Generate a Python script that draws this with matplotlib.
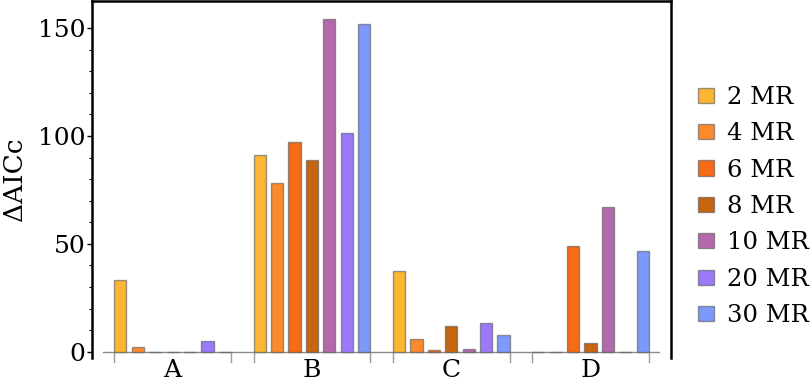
import numpy as np
import matplotlib
matplotlib.use("Agg")
import matplotlib.pyplot as plt
from matplotlib.patches import Patch

# --- data ---------------------------------------------------------------
groups = ["A", "B", "C", "D"]
series = ["2 MR", "4 MR", "6 MR", "8 MR", "10 MR", "20 MR", "30 MR"]

mr2 = [33.1, 91.1, 37.6, 0.0]
mr4 = [2.2, 78.4, 5.9, 0.0]
mr6 = [0.0, 97.4, 0.8, 48.9]
mr8 = [0.0, 89.1, 11.8, 3.9]
mr10 = [0.0, 154.3, 1.2, 67.1]
mr20 = [5.1, 101.4, 13.5, 0.0]
mr30 = [0.0, 151.9, 7.7, 46.8]

colors = ["#FDB634", "#FB8A2C", "#F66B16", "#C8650F",
          "#B469AD", "#9B7AFA", "#7C99FB"]

values = [mr2, mr4, mr6, mr8, mr10, mr20, mr30]

# --- figure -------------------------------------------------------------
plt.rcParams.update({"font.family": "DejaVu Serif"})

fig = plt.figure(figsize=(8.1, 3.83), dpi=100)
ax = fig.add_axes([0.1136, 0.0653, 0.828 - 0.1136, 1.0 - 0.0653 - 0.002])

n_ser = len(series)
step = n_ser + 1
width = 0.7
edge = (0.35, 0.35, 0.35, 0.6)
for i, (vals, c) in enumerate(zip(values, colors)):
    x = np.arange(len(groups)) * step + i
    ax.bar(x, vals, width=width, color=c, edgecolor=edge,
           linewidth=1.0, zorder=3)

# zero baseline
ax.plot([-1.0, (len(groups) - 1) * step + n_ser - 0.05], [0, 0],
        color="#8a8a8a", lw=1.0, zorder=2)

# group edge ticks below the baseline + group names
for g in range(len(groups)):
    for xe in (g * step - width / 2, g * step + n_ser - 1 + width / 2):
        ax.plot([xe, xe], [0, -4.8], color="#9a9a9a", lw=1.0,
                clip_on=False, zorder=2)
    ax.text(g * step + (n_ser - 1) / 2, -8.6, groups[g], ha="center",
            va="center", fontsize=18, clip_on=False)

ax.set_xlim(-1.63, 31.6)
ax.set_ylim(-2.9, 162.7)
ax.set_xticks([])
ax.set_yticks([0, 50, 100, 150])
ax.set_yticks(np.arange(10, 160, 10), minor=True)
ax.tick_params(axis="y", which="major", labelsize=18, length=3.6, width=1.0,
               direction="out", pad=1)
ax.tick_params(axis="y", which="minor", length=2.2, width=0.8, direction="out")
ax.set_ylabel("ΔAICc", fontsize=19, labelpad=8)

for s in ["left", "top", "right"]:
    ax.spines[s].set_linewidth(1.8)
ax.spines["bottom"].set_visible(False)

handles = [Patch(facecolor=c, edgecolor=edge, label=s)
           for s, c in zip(series, colors)]
fig.legend(handles=handles, loc="center left", bbox_to_anchor=(0.8617, 0.461),
           frameon=False, fontsize=17.5, handlelength=0.66, handleheight=0.58,
           handletextpad=0.53, labelspacing=0.55, borderpad=0,
           borderaxespad=0)

fig.savefig("out.png", dpi=100)
